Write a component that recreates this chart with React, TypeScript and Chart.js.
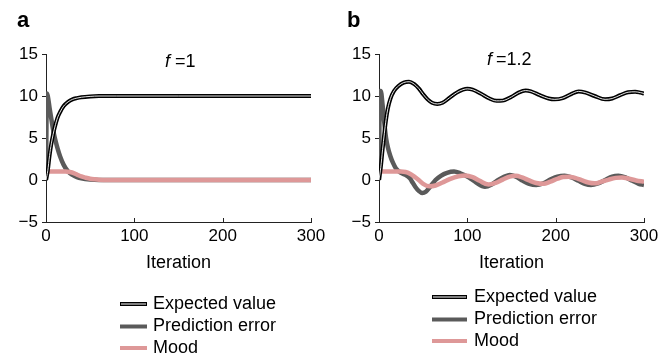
import React, { useEffect, useRef } from 'react';
import { Chart, registerables } from 'chart.js';

Chart.register(...registerables);

const FONT = 'Liberation Sans, Arial, Helvetica, sans-serif';

const xTicks = [0, 100, 200, 300];
const yTicks = [-5, 0, 5, 10, 15];
const legendLabels = ['Expected value', 'Prediction error', 'Mood'];
const panelLetters = ['a', 'b'];
const panelParams = ['1', '1.2'];

// Panel a (f = 1)
const aEvX = [0, 2, 4, 6, 8, 10, 13, 16, 20, 25, 30, 35, 40, 50, 60, 80, 150, 300];
const aEvY = [0, 1.1, 2.9, 4.3, 5.4, 6.3, 7.4, 8.1, 8.8, 9.3, 9.6, 9.75, 9.85, 9.95, 10, 10, 10, 10];
const aPeX = [0, 1, 2, 4, 6, 8, 10, 13, 16, 20, 25, 30, 35, 40, 50, 60, 80, 150, 300];
const aPeY = [0, 10.3, 10.0, 8.6, 7.3, 6.0, 5.0, 3.8, 2.8, 1.8, 1.0, 0.6, 0.35, 0.2, 0.05, 0, 0, 0, 0];
const aMoodX = [0, 22, 27, 32, 36, 40, 45, 50, 55, 60, 70, 150, 300];
const aMoodY = [1.0, 1.0, 0.95, 0.8, 0.6, 0.42, 0.27, 0.15, 0.08, 0.03, 0, 0, 0];

// Panel b (f = 1.2)
const bEvX = [0, 2, 4, 6, 8, 10, 13, 17, 22, 28, 34, 40, 45, 50, 55, 60, 66, 72, 80, 88, 95, 100, 106, 115, 125, 133, 140, 150, 158, 166, 172, 182, 192, 199, 208, 217, 226, 234, 244, 256, 264, 273, 282, 290, 296, 300];
const bEvY = [0, 1.5, 3.6, 5.5, 7.2, 8.5, 9.7, 10.6, 11.2, 11.6, 11.7, 11.4, 10.9, 10.2, 9.6, 9.2, 9.05, 9.2, 9.8, 10.4, 10.75, 10.85, 10.75, 10.3, 9.7, 9.42, 9.45, 9.9, 10.4, 10.65, 10.55, 10.1, 9.7, 9.6, 9.75, 10.2, 10.55, 10.4, 10.0, 9.6, 9.7, 10.1, 10.45, 10.5, 10.4, 10.3];
const bPeX = [0, 1, 2, 4, 6, 8, 10, 13, 16, 19, 24, 30, 35, 38, 41, 45, 49, 53, 58, 64, 70, 77, 85, 92, 102, 110, 120, 128, 135, 142, 148, 155, 163, 170, 178, 186, 195, 202, 210, 218, 226, 233, 240, 248, 256, 264, 271, 279, 287, 294, 300];
const bPeY = [0, 10.6, 10.6, 9.0, 6.8, 5.0, 3.9, 2.8, 2.0, 1.4, 0.9, 0.6, 0.2, -0.3, -0.8, -1.3, -1.55, -1.4, -0.8, 0.0, 0.5, 0.85, 1.0, 0.8, 0.3, -0.3, -0.8, -0.5, 0.0, 0.4, 0.6, 0.4, -0.1, -0.45, -0.6, -0.4, 0.1, 0.4, 0.5, 0.3, -0.1, -0.45, -0.6, -0.4, 0.0, 0.4, 0.5, 0.3, -0.1, -0.45, -0.6];
const bMoodX = [0, 25, 30, 35, 40, 45, 50, 57, 64, 72, 80, 90, 98, 106, 114, 124, 132, 140, 148, 155, 162, 170, 178, 186, 194, 202, 208, 215, 222, 230, 237, 244, 252, 260, 268, 275, 283, 291, 300];
const bMoodY = [1.0, 1.0, 0.95, 0.75, 0.4, 0.0, -0.45, -0.75, -0.65, -0.3, 0.1, 0.45, 0.55, 0.35, -0.1, -0.55, -0.35, 0.05, 0.4, 0.5, 0.3, -0.05, -0.35, -0.45, -0.2, 0.15, 0.35, 0.4, 0.25, -0.05, -0.3, -0.4, -0.2, 0.05, 0.25, 0.3, 0.15, -0.05, -0.2];

const BLACK = '#000000';
const GRAY = '#5a5a5a';
const PINK = '#de9898';
const AXIS = '#222222';

const pts = (xs: number[], ys: number[]) => xs.map((x, i) => ({ x, y: ys[i] }));

interface PanelSpec {
  letter: string;
  param: string;
  ev: { x: number; y: number }[];
  pe: { x: number; y: number }[];
  mood: { x: number; y: number }[];
  yWidth: number;
  padRight: number;
  letterX: number;
  fX: number;
  eqX: number;
  fY: number;
  legX0: number;
  legX1: number;
  legTextX: number;
  legYs: number[];
}

function makeChart(canvas: HTMLCanvasElement, p: PanelSpec) {
  const common = { pointRadius: 0, pointHoverRadius: 0, fill: false, cubicInterpolationMode: 'monotone' as const };
  const overlay = {
    id: 'overlay',
    afterDraw(chart: any) {
      const ctx = chart.ctx as CanvasRenderingContext2D;
      const xs = chart.scales.x;
      const area = chart.chartArea;
      ctx.save();
      // inward x ticks
      ctx.strokeStyle = AXIS;
      ctx.lineWidth = 1;
      xTicks.forEach((v) => {
        if (v === 0) return;
        const px = Math.round(xs.getPixelForValue(v)) + 0.5;
        ctx.beginPath();
        ctx.moveTo(px, area.bottom);
        ctx.lineTo(px, area.bottom - 4);
        ctx.stroke();
      });
      // panel letter
      ctx.fillStyle = '#000';
      ctx.textBaseline = 'alphabetic';
      ctx.textAlign = 'left';
      ctx.font = `bold 22px ${FONT}`;
      ctx.fillText(p.letter, p.letterX, 27);
      // f = value
      ctx.font = `italic 18px ${FONT}`;
      ctx.fillText('f', p.fX, p.fY);
      ctx.font = `18px ${FONT}`;
      ctx.fillText('=' + p.param, p.eqX, p.fY);
      // legend
      const colors = [BLACK, GRAY, PINK];
      legendLabels.forEach((label, i) => {
        const y = p.legYs[i];
        ctx.lineCap = 'butt';
        ctx.strokeStyle = colors[i];
        ctx.lineWidth = i === 0 ? 4 : 4;
        ctx.beginPath();
        ctx.moveTo(p.legX0, y);
        ctx.lineTo(p.legX1, y);
        ctx.stroke();
        if (i === 0) {
          ctx.strokeStyle = '#ffffff';
          ctx.lineWidth = 1;
          ctx.beginPath();
          ctx.moveTo(p.legX0 + 1, y);
          ctx.lineTo(p.legX1 - 1, y);
          ctx.stroke();
        }
        ctx.fillStyle = '#000';
        ctx.font = `18px ${FONT}`;
        ctx.textBaseline = 'middle';
        ctx.fillText(label, p.legTextX, y);
      });
      ctx.restore();
    },
  };

  return new Chart(canvas, {
    type: 'line',
    data: {
      datasets: [
        { label: 'Expected value (inner)', data: p.ev, borderColor: '#ffffff', borderWidth: 0.9, order: 0, ...common },
        { label: 'Expected value', data: p.ev, borderColor: BLACK, borderWidth: 4, order: 1, ...common },
        { label: 'Mood', data: p.mood, borderColor: PINK, borderWidth: 4.5, order: 2, ...common },
        { label: 'Prediction error', data: p.pe, borderColor: GRAY, borderWidth: 4.5, order: 3, ...common },
      ],
    },
    options: {
      responsive: false,
      animation: false,
      events: [],
      layout: { padding: { left: 0, right: p.padRight, top: 54, bottom: 83 } },
      plugins: { legend: { display: false }, tooltip: { enabled: false }, title: { display: false } },
      scales: {
        x: {
          type: 'linear',
          min: 0,
          max: 300,
          afterBuildTicks: (s: any) => { s.ticks = xTicks.map((v) => ({ value: v })); },
          afterFit: (s: any) => { s.height = 52; },
          ticks: { font: { family: FONT, size: 17 }, color: '#000', padding: 4, maxRotation: 0 },
          grid: { display: true, drawOnChartArea: false, drawTicks: false, color: AXIS },
          border: { display: true, color: AXIS, width: 1 },
          title: { display: true, text: 'Iteration', color: '#000', font: { family: FONT, size: 18 }, padding: { top: 0, bottom: 0 } },
        },
        y: {
          type: 'linear',
          min: -5,
          max: 15,
          afterBuildTicks: (s: any) => { s.ticks = yTicks.map((v) => ({ value: v })); },
          afterFit: (s: any) => { s.width = p.yWidth; },
          ticks: {
            font: { family: FONT, size: 17 },
            color: '#000',
            padding: 4,
            callback: (v: any) => String(v).replace('-', '\u2212'),
          },
          grid: { display: true, drawOnChartArea: false, drawTicks: true, tickLength: 4, color: AXIS },
          border: { display: true, color: AXIS, width: 1 },
        },
      },
    },
    plugins: [overlay],
  } as any);
}

const panels: PanelSpec[] = [
  {
    letter: panelLetters[0], param: panelParams[0],
    ev: pts(aEvX, aEvY), pe: pts(aPeX, aPeY), mood: pts(aMoodX, aMoodY),
    yWidth: 46, padRight: 23, letterX: 17, fX: 165, eqX: 175, fY: 67,
    legX0: 120, legX1: 147, legTextX: 153, legYs: [304, 326.5, 348],
  },
  {
    letter: panelLetters[1], param: panelParams[1],
    ev: pts(bEvX, bEvY), pe: pts(bPeX, bPeY), mood: pts(bMoodX, bMoodY),
    yWidth: 45, padRight: 25, letterX: 13, fX: 153, eqX: 162, fY: 65,
    legX0: 98, legX1: 133, legTextX: 140, legYs: [297, 319.5, 341],
  },
];

function Panel({ spec, width }: { spec: PanelSpec; width: number }) {
  const ref = useRef<HTMLCanvasElement | null>(null);
  useEffect(() => {
    if (!ref.current) return;
    const chart = makeChart(ref.current, spec);
    return () => chart.destroy();
  }, [spec]);
  return <canvas ref={ref} width={width} height={357} style={{ width, height: 357, display: 'block' }} />;
}

export default function App() {
  return (
    <div style={{ position: 'fixed', left: 0, top: 0, width: 669, height: 357, background: '#fff', display: 'flex' }}>
      <Panel spec={panels[0]} width={334} />
      <Panel spec={panels[1]} width={335} />
    </div>
  );
}
